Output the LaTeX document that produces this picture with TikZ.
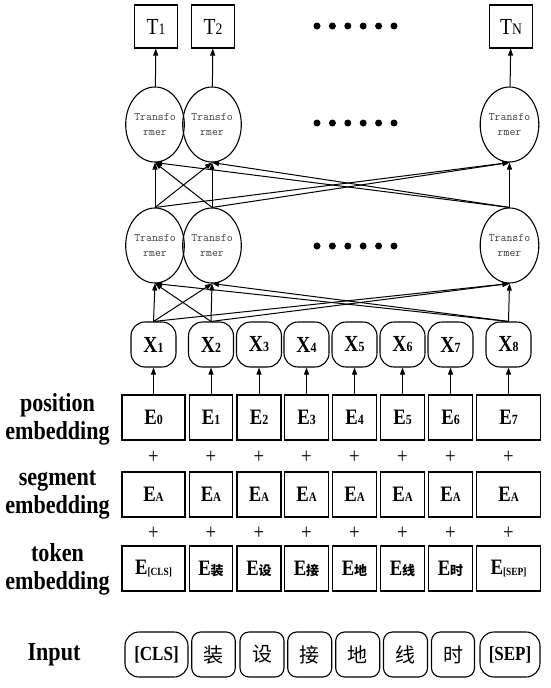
\documentclass[tikz,border=0pt]{standalone}
\usepackage{fontspec}
\setmainfont{Liberation Serif}[FakeStretch=0.85]
\newfontfamily\cjk{Noto Sans CJK SC}
\usetikzlibrary{positioning, shapes.geometric, arrows.meta}

\newcommand{\subsz}[2]{{\fontsize{#1}{#1}\selectfont #2}}

\tikzset{
  embbox/.style={draw, line width=1.2pt, minimum height=45pt, inner sep=0pt,
    font=\bfseries\fontsize{22}{22}\selectfont},
  xbox/.style={draw, rounded corners=14pt, line width=1.1pt, minimum width=45pt,
    minimum height=45pt, inner sep=0pt, font=\bfseries\fontsize{23}{23}\selectfont},
  trans/.style={draw, ellipse, line width=1.1pt, minimum width=53pt, minimum height=75pt,
    inner sep=0pt, align=center, text=black!75, font=\ttfamily\fontsize{11.5}{15}\selectfont},
  outbox/.style={draw, line width=1.1pt, minimum width=43pt, minimum height=43pt,
    inner sep=0pt, font=\fontsize{23}{23}\selectfont},
  inbox/.style={draw, line width=1.1pt, minimum height=45pt, inner sep=0pt},
  rowlabel/.style={align=center, font=\bfseries\fontsize{26}{28}\selectfont},
  plus/.style={font=\fontsize{22}{22}\selectfont},
  conn/.style={-{Triangle[length=7pt,width=5pt]}, line width=1pt},
}

\begin{document}
\begin{tikzpicture}[x=1pt, y=-1pt]
  \useasboundingbox (0,0) rectangle (550,688);

  % Row labels
  \node[rowlabel] (lpos) at (57.5,419) {position\\embedding};
  \node[rowlabel] (lseg) at (57.5,495) {segment\\embedding};
  \node[rowlabel] (ltok) at (57.5,569) {token\\embedding};
  \node[rowlabel] (lin) at (54,655) {Input};

  % Input tokens
  \foreach \i/\cx/\w/\r/\txt in {1/156.5/63/14/{\bfseries\fontsize{20}{20}\selectfont [CLS]},
      2/213.5/43.5/9/{\cjk\fontsize{20}{20}\selectfont 装},
      3/262/44/9/{\cjk\fontsize{20}{20}\selectfont 设},
      4/309.7/44/9/{\cjk\fontsize{20}{20}\selectfont 接},
      5/357.7/44/9/{\cjk\fontsize{20}{20}\selectfont 地},
      6/405.5/44/9/{\cjk\fontsize{20}{20}\selectfont 线},
      7/453/43/9/{\cjk\fontsize{20}{20}\selectfont 时},
      8/510/60/14/{\bfseries\fontsize{20}{20}\selectfont [SEP]}}
    \node[inbox, minimum width=\w*1pt, rounded corners=\r*1pt] (in\i) at (\cx,654.5) {\txt};

  % Token embedding
  \foreach \i/\cx/\w/\sub in {1/153.5/63/{\raisebox{-1.5pt}{\subsz{11}{[CLS]}}},
      2/211/43.5/{\cjk\subsz{13}{装}}, 3/259/44/{\cjk\subsz{13}{设}},
      4/306.5/43.5/{\cjk\subsz{13}{接}}, 5/354.5/43.5/{\cjk\subsz{13}{地}},
      6/402.5/43.5/{\cjk\subsz{13}{线}}, 7/450.5/43.5/{\cjk\subsz{13}{时}},
      8/508.5/63.5/{\raisebox{-1.5pt}{\subsz{11}{[SEP]}}}}
    \node[embbox, minimum width=\w*1pt] (tok\i) at (\cx,568.5) {E\sub};

  % Segment and position embedding
  \foreach \i/\cx/\w in {1/153.5/63, 2/211/43.5, 3/259/44, 4/306.5/43.5,
      5/354.5/43.5, 6/402.5/43.5, 7/450.5/43.5, 8/508.5/63.5} {
    \pgfmathtruncatemacro{\k}{\i-1}
    \node[plus] (q\i) at (\cx,533) {+};
    \node[embbox, minimum width=\w*1pt] (seg\i) at (\cx,494.5) {E\subsz{13}{A}};
    \node[plus] (p\i) at (\cx,457) {+};
    \node[embbox, minimum width=\w*1pt] (pos\i) at (\cx,417.5) {E\subsz{14}{\k}};
    \node[xbox] (x\i) at (\cx,344.5) {X\subsz{14}{\i}};
    \draw[conn] (pos\i) -- (x\i);
  }

  % Transformer layers
  \node[trans] (lo1) at (155,245.5) {Transfo\\rmer};
  \node[trans] (lo2) at (212,245.5) {Transfo\\rmer};
  \node[trans] (loN) at (509.5,245.5) {Transfo\\rmer};
  \node[trans] (up1) at (155,124.5) {Transfo\\rmer};
  \node[trans] (up2) at (212,124.5) {Transfo\\rmer};
  \node[trans] (upN) at (509.5,124.5) {Transfo\\rmer};

  \foreach \a in {x1,x2,x8}
    \foreach \b in {lo1,lo2,loN}
      \draw[conn] (\a.north) -- (\b.south);
  \foreach \a in {lo1,lo2,loN}
    \foreach \b in {up1,up2,upN}
      \draw[conn] (\a.north) -- (\b.south);

  % Outputs
  \node[outbox] (t1) at (156,26.5) {T\subsz{16}{1}};
  \node[outbox] (t2) at (213,26.5) {T\subsz{16}{2}};
  \node[outbox] (tN) at (511,26.5) {T\subsz{16}{N}};
  \draw[conn] (up1) -- (t1);
  \draw[conn] (up2) -- (t2);
  \draw[conn] (upN) -- (tN);

  % Ellipsis dots
  \foreach \y in {26,123,246}
    \foreach \x in {317,332.4,347.8,363.2,378.6,394}
      \fill (\x,\y) circle (3.5pt);
\end{tikzpicture}
\end{document}
